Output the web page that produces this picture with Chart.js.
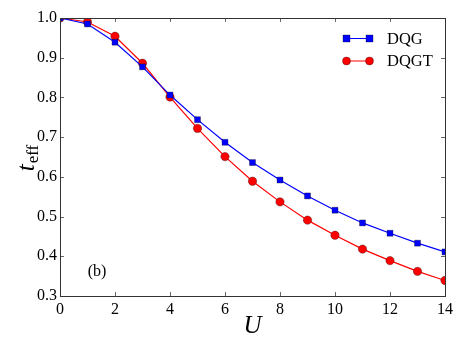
<!DOCTYPE html>
<html>
<head>
<meta charset="utf-8">
<script src="https://cdn.jsdelivr.net/npm/chart.js@4/dist/chart.umd.min.js"></script>
<style>
html,body{margin:0;padding:0;background:#fff;}
#wrap{width:463px;height:348px;}
</style>
</head>
<body>
<div id="wrap"><canvas id="c" width="463" height="348"></canvas></div>
<script>
const U = [0,1,2,3,4,5,6,7,8,9,10,11,12,13,14];
const dqg  = [1.000,0.985,0.939,0.877,0.806,0.744,0.687,0.636,0.592,0.552,0.516,0.484,0.458,0.433,0.411];
const dqgt = [1.000,0.990,0.954,0.886,0.801,0.722,0.651,0.589,0.537,0.491,0.453,0.418,0.389,0.362,0.339];
const xTicks = [0,2,4,6,8,10,12,14];
const yTicks = [0.3,0.4,0.5,0.6,0.7,0.8,0.9,1.0];
const seriesNames = ['DQG','DQGT'];
const panelLabel = '(b)';
const xTitle = 'U';
const yTitleMain = 't';
const yTitleSub = 'eff';

const SERIF = '"Liberation Serif", "Times New Roman", Times, serif';
const FRAME = '#333';

const deco = {
  id:'deco',
  afterDatasetsDraw(chart){
    const ctx = chart.ctx, a = chart.chartArea;
    const xs = chart.scales.x, ys = chart.scales.y;
    ctx.save();
    ctx.strokeStyle = '#666'; ctx.lineWidth = 1;
    const tl = 4;
    xTicks.forEach(v=>{
      const px = Math.round(xs.getPixelForValue(v))+0.5;
      ctx.beginPath();
      ctx.moveTo(px,a.bottom); ctx.lineTo(px,a.bottom-tl);
      ctx.moveTo(px,a.top); ctx.lineTo(px,a.top+tl);
      ctx.stroke();
    });
    yTicks.forEach(v=>{
      const py = Math.round(ys.getPixelForValue(v))+0.5;
      ctx.beginPath();
      ctx.moveTo(a.left,py); ctx.lineTo(a.left+tl,py);
      ctx.moveTo(a.right,py); ctx.lineTo(a.right-tl,py);
      ctx.stroke();
    });
    ctx.strokeStyle = FRAME; ctx.lineWidth = 1;
    ctx.strokeRect(Math.round(a.left)+0.5, Math.round(a.top)+0.5, Math.round(a.right-a.left), Math.round(a.bottom-a.top));
    const ds = chart.data.datasets;
    ds.forEach((d,i)=>{
      const y = 38.5 + i*22.5;
      const x1 = 346.5, x2 = 369.5;
      ctx.strokeStyle = d.borderColor; ctx.lineWidth = 1;
      ctx.beginPath(); ctx.moveTo(x1,y); ctx.lineTo(x2,y); ctx.stroke();
      [x1,x2].forEach(x=>{
        ctx.fillStyle = d.pointBackgroundColor;
        ctx.strokeStyle = 'rgba(0,0,0,0.55)'; ctx.lineWidth = 0.6;
        ctx.beginPath();
        if(d.pointStyle==='rect'){ ctx.rect(x-3.5,y-3.5,7,7); }
        else { ctx.arc(x,y,4,0,Math.PI*2); }
        ctx.fill(); ctx.stroke();
      });
      ctx.fillStyle = '#000';
      ctx.font = '16.5px '+SERIF;
      ctx.textAlign = 'left'; ctx.textBaseline = 'middle';
      ctx.fillText(d.label, 387, y+1);
    });
    ctx.fillStyle = '#000';
    ctx.font = '16px '+SERIF;
    ctx.textAlign = 'center'; ctx.textBaseline = 'middle';
    ctx.fillText(panelLabel, 97, 272);
    ctx.font = 'italic 25px '+SERIF;
    ctx.textAlign = 'center'; ctx.textBaseline = 'middle';
    ctx.fillText(xTitle, (a.left+a.right)/2, 326);
    ctx.save();
    ctx.translate(26, 158);
    ctx.rotate(-Math.PI/2);
    ctx.font = 'italic 25px '+SERIF;
    ctx.textAlign = 'left'; ctx.textBaseline = 'alphabetic';
    const tw = ctx.measureText(yTitleMain).width;
    ctx.font = '17px '+SERIF;
    const sw = ctx.measureText(yTitleSub).width;
    const total = tw + sw + 1;
    ctx.font = 'italic 25px '+SERIF;
    ctx.fillText(yTitleMain, -total/2, 8);
    ctx.font = '17px '+SERIF;
    ctx.fillText(yTitleSub, -total/2 + tw + 1, 12);
    ctx.restore();
    ctx.restore();
  }
};

function build(){
  new Chart(document.getElementById('c'), {
    type:'line',
    data:{
      datasets:[
        {label:seriesNames[0], data:U.map((u,i)=>({x:u,y:dqg[i]})),
         borderColor:'#0000ff', backgroundColor:'#0000ff', borderWidth:1.2,
         pointStyle:'rect', pointRadius:4.2, pointBackgroundColor:'#0000ff',
         pointBorderColor:'rgba(0,0,0,0.55)', pointBorderWidth:0.6, tension:0},
        {label:seriesNames[1], data:U.map((u,i)=>({x:u,y:dqgt[i]})),
         borderColor:'#ff0000', backgroundColor:'#ff0000', borderWidth:1.2,
         pointStyle:'circle', pointRadius:4.2, pointBackgroundColor:'#ff0000',
         pointBorderColor:'rgba(0,0,0,0.55)', pointBorderWidth:0.6, tension:0}
      ]
    },
    options:{
      responsive:false, animation:false, devicePixelRatio:1,
      layout:{padding:{top:18,right:18,left:0,bottom:0}},
      plugins:{legend:{display:false}, tooltip:{enabled:false}},
      scales:{
        x:{type:'linear', min:0, max:14,
           afterFit(s){ s.height = 52; },
           afterBuildTicks(s){ s.ticks = xTicks.map(v=>({value:v})); },
           grid:{display:false, drawTicks:false},
           border:{display:false},
           ticks:{color:'#000', padding:4, font:{family:SERIF, size:16}, maxRotation:0,
                  callback:v=>String(v)}},
        y:{type:'linear', min:0.3, max:1.0,
           afterFit(s){ s.width = 60; },
           afterBuildTicks(s){ s.ticks = yTicks.map(v=>({value:v})); },
           grid:{display:false, drawTicks:false},
           border:{display:false},
           ticks:{color:'#000', padding:3, font:{family:SERIF, size:16},
                  callback:v=>Number(v).toFixed(1)}}
      }
    },
    plugins:[deco]
  });
}
Promise.all([
  document.fonts.load('15px "Liberation Serif"'),
  document.fonts.load('italic 24px "Liberation Serif"')
]).then(build, build);
</script>
</body>
</html>
